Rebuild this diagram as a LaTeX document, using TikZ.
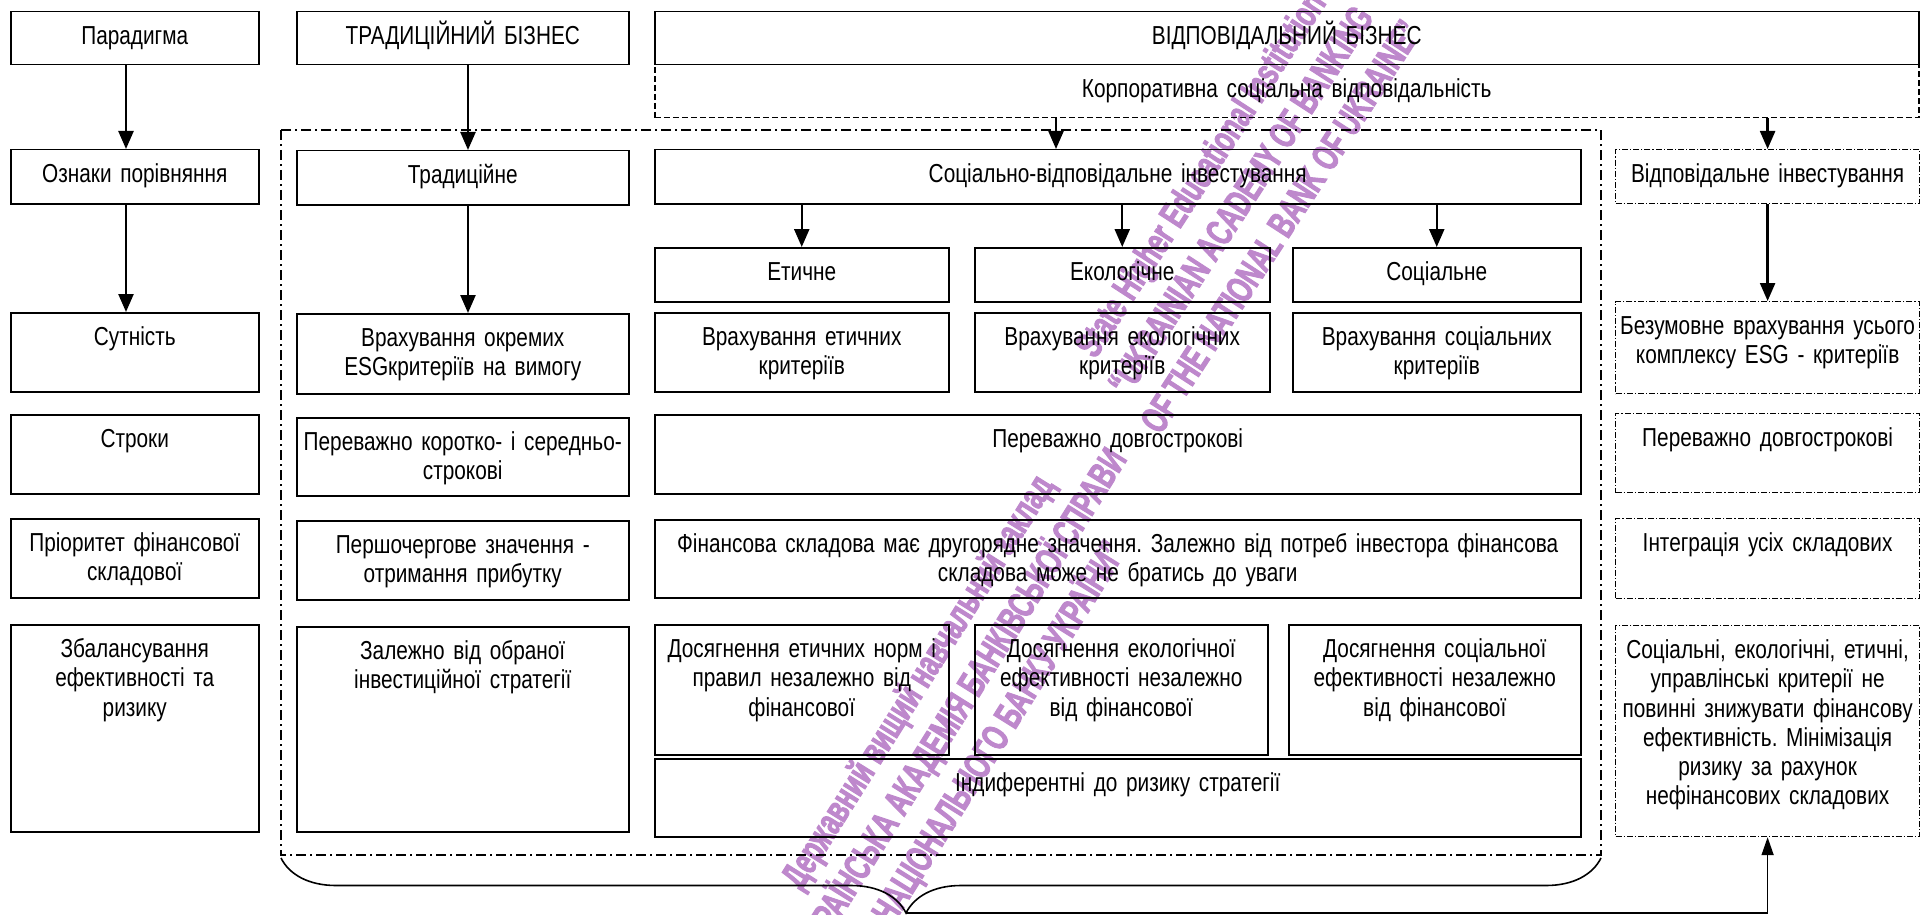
\documentclass[tikz,border=0pt]{standalone}
\usepackage{fontspec}
\setmainfont{Liberation Sans}[FakeStretch=0.80]
\newfontfamily\stampfont{Liberation Sans}[FakeStretch=0.66, FakeBold=2.5]
\usetikzlibrary{arrows.meta,decorations.pathreplacing}
\definecolor{stamp}{RGB}{190,136,204}

\begin{document}
\frenchspacing
\begin{tikzpicture}[
    x=0.5pt, y=-0.5pt,
    font=\fontsize{13pt}{14.6pt}\selectfont,
    cell/.style 2 args={draw, line width=0.75pt, anchor=north west,
        align=center, inner xsep=0pt, inner ysep=0pt,
        text width=#1*0.5pt, text height=16.5pt,
        text depth=#2*0.5pt-16.5pt},
    dashcell/.style={dash pattern=on 3pt off 1.5pt},
    dotcell/.style={line width=0.6pt, dash pattern=on 3pt off 1pt on 0.6pt off 1pt},
    frame/.style={line width=0.9pt, dash pattern=on 5pt off 2pt on 1pt off 2pt},
    arr/.style={line width=1.2pt, -{Triangle[length=9pt,width=7.5pt]}},
    link/.style={line width=0.8pt, -{Triangle[length=9pt,width=6pt]}},
    stamptext/.style={stamp, font=\fontsize{19pt}{24pt}\stampfont\bfseries,
        align=center, inner sep=0pt}
]
\useasboundingbox (0,0) rectangle (1923,915);

% ---------- stamp ----------
\node[stamptext, rotate=57] (wmen) at (1240,200)
  {State Higher Educational Institution\\“UKRAINIAN ACADEMY OF BANKING\\OF THE NATIONAL BANK OF UKRAINE”};
\node[stamptext, rotate=58] (wmua) at (960,708)
  {Державний вищий навчальний заклад\\“УКРАЇНСЬКА АКАДЕМІЯ БАНКІВСЬКОЇ СПРАВИ\\НАЦІОНАЛЬНОГО БАНКУ УКРАЇНИ”};

% ---------- paradigm ----------
\node[cell={248}{53}] (par) at (10,11) {Парадигма};
\node[cell={332}{53}] (trb) at (296,11) {ТРАДИЦІЙНИЙ БІЗНЕС};
\node[cell={1264}{53}] (vb) at (654,11) {ВІДПОВІДАЛЬНИЙ БІЗНЕС};
\node[cell={1264}{53}, dashcell] (ksv) at (654,64) {Корпоративна соціальна відповідальність};

% ---------- kinds of investing ----------
\node[cell={248}{54}] (ozn) at (10,149) {Ознаки порівняння};
\node[cell={332}{54}] (trd) at (296,150) {Традиційне};
\node[cell={926}{54}] (svi) at (654,149) {Соціально-відповідальне інвестування};
\node[cell={304}{54}, dotcell] (rin) at (1615,149) {Відповідальне інвестування};

\node[cell={294}{54}] (eth) at (654,247) {Етичне};
\node[cell={295}{54}] (eco) at (974,247) {Екологічне};
\node[cell={288}{54}] (soc) at (1292,247) {Соціальне};

% ---------- essence ----------
\node[cell={248}{79}] (sut) at (10,312) {Сутність};
\node[cell={332}{80}] (vok) at (296,313) {Врахування окремих\\ESGкритеріїв на вимогу};
\node[cell={294}{79}] (veth) at (654,312) {Врахування етичних\\критеріїв};
\node[cell={295}{79}] (veco) at (974,312) {Врахування екологічних\\критеріїв};
\node[cell={288}{79}] (vsoc) at (1292,312) {Врахування соціальних\\критеріїв};
\node[cell={304}{92}, dotcell] (bez) at (1615,301) {Безумовне врахування усього\\комплексу ESG - критеріїв};

% ---------- terms ----------
\node[cell={248}{79}] (str) at (10,414) {Строки};
\node[cell={332}{78}] (pks) at (296,417) {Переважно коротко- і середньо-\\строкові};
\node[cell={926}{79}] (pdv) at (654,414) {Переважно довгострокові};
\node[cell={304}{79}, dotcell] (pdr) at (1615,413) {Переважно довгострокові};

% ---------- financial priority ----------
\node[cell={248}{79}] (pri) at (10,518) {Пріоритет фінансової\\складової};
\node[cell={332}{79}] (pzn) at (296,520) {Першочергове значення -\\отримання прибутку};
\node[cell={926}{78}] (fsk) at (654,519) {Фінансова складова має другорядне значення. Залежно від потреб інвестора фінансова\\складова може не братись до уваги};
\node[cell={304}{80}, dotcell] (int) at (1615,518) {Інтеграція усіх складових};

% ---------- efficiency and risk ----------
\node[cell={248}{207}] (zba) at (10,624) {Збалансування\\ефективності та\\ризику};
\node[cell={332}{205}] (zob) at (296,626) {Залежно від обраної\\інвестиційної стратегії};
\node[cell={294}{130}] (deth) at (654,624) {Досягнення етичних норм і\\правил незалежно від\\фінансової};
\node[cell={293}{130}] (deco) at (974,624) {Досягнення екологічної\\ефективності незалежно\\від фінансової};
\node[cell={292}{130}] (dsoc) at (1288,624) {Досягнення соціальної\\ефективності незалежно\\від фінансової};
\node[cell={926}{78}] (ind) at (654,758) {Індиферентні до ризику стратегії};
\node[cell={304}{211}, dotcell] (skr) at (1615,625) {Соціальні, екологічні, етичні,\\управлінські критерії не\\повинні знижувати фінансову\\ефективність. Мінімізація\\ризику за рахунок\\нефінансових складових};

% ---------- frame around the investing part ----------
\draw[frame] (281,130) rectangle (1601,855);

% ---------- arrows ----------
\coordinate (colA) at (126,0);
\coordinate (colB) at (468,0);
\coordinate (sviin) at (1056,0);
\draw[arr] (par.south -| colA) -- (ozn.north -| colA);
\draw[arr] (ozn.south -| colA) -- (sut.north -| colA);
\draw[arr] (trb.south -| colB) -- (trd.north -| colB);
\draw[arr] (trd.south -| colB) -- (vok.north -| colB);
\draw[arr] (ksv.south -| sviin) -- (svi.north -| sviin);
\draw[arr] (ksv.south -| rin.north) -- (rin.north);
\foreach \b in {eth,eco,soc}
  \draw[arr] (svi.south -| \b.north) -- (\b.north);
\draw[arr] (rin.south) -- (bez.north);

% ---------- brace ----------
\draw[line width=0.8pt, decorate,
      decoration={brace, mirror, amplitude=27.5pt, aspect=0.4735}]
  (281,858) -- (1601,858);
\coordinate (btip) at (906,913);
\draw[link] (btip) -| (skr.south);

\end{tikzpicture}
\end{document}
